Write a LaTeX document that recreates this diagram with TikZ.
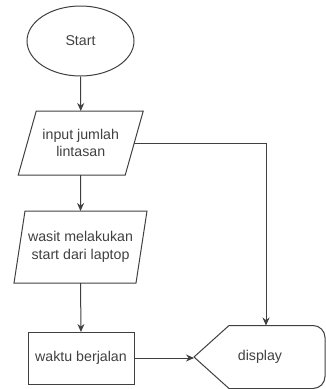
\documentclass[tikz,border=0pt]{standalone}
\usepackage{fontspec}
\setmainfont{Liberation Sans}
\usetikzlibrary{shapes.geometric,arrows.meta}
\begin{document}
\begin{tikzpicture}[x=1pt,y=-1pt,
  every node/.style={font=\fontsize{14.2}{17.5}\selectfont, text=black!75, align=center},
  line/.style={draw=black!75, line width=1pt},
  arr/.style={line, -{Stealth[length=8pt,width=7pt]}},
  box/.style={inner sep=0pt, outer sep=0pt}]
\useasboundingbox (0,0) rectangle (326,389);
% Start
\node[ellipse, line, minimum width=107pt, minimum height=70pt, inner sep=0pt] (start) at (80.5,41) {Start};
% parallelogram 1
\node[box, minimum width=107pt, minimum height=64pt] (p1) at (80.75,143) {input jumlah\\lintasan};
\draw[line] ([xshift=9pt]p1.north west) -- ([xshift=9pt]p1.north east) -- ([xshift=-9pt]p1.south east) -- ([xshift=-9pt]p1.south west) -- cycle;
% parallelogram 2
\node[box, minimum width=122pt, minimum height=72pt] (p2) at (80.5,247) {wasit melakukan\\start dari laptop};
\draw[line] ([xshift=5.5pt]p2.north west) -- ([xshift=5.5pt]p2.north east) -- ([xshift=-5.5pt]p2.south east) -- ([xshift=-5.5pt]p2.south west) -- cycle;
% process rectangle
\node[box, draw=black!75, line width=1pt, minimum width=106pt, minimum height=52pt] (wb) at (81,358) {waktu berjalan};
% display
\node[box] (disp) at (260,357) {display};
\coordinate (dispL) at (194,357);
\coordinate (dispT) at (266,325.5);
\draw[line] (dispL) -- (229,325.5) -- (313,325.5) arc[start angle=-90, end angle=0, radius=12] -- (325,376.5) arc[start angle=0, end angle=90, radius=12] -- (229,388.5) -- cycle;
% connectors
\draw[arr] (start) -- (p1.north);
\draw[arr] (p1.south) -- (p2.north);
\draw[arr] (p2.south) -- (wb.north);
\draw[arr] (wb.east) -- (dispL |- wb.east);
\draw[arr] (p1.east) -| (dispT);
\end{tikzpicture}
\end{document}
